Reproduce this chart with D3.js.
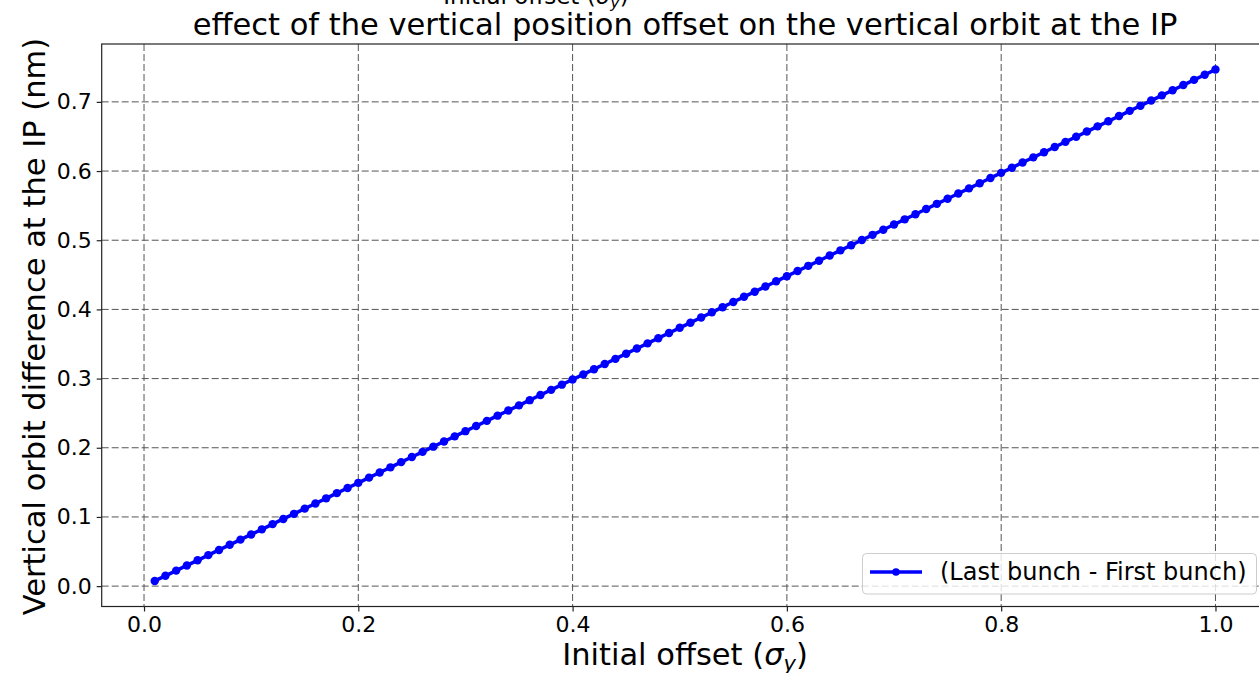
<!DOCTYPE html>
<html>
<head>
<meta charset="utf-8">
<script src="https://cdn.jsdelivr.net/npm/d3@7"></script>
<style>
  body { margin: 0; background: #fff; }
  svg text { font-family: "DejaVu Sans", sans-serif; fill: #000; }
</style>
</head>
<body>
<div id="chart"></div>
<script>
// datos: offset inicial (sigma_y) y diferencia de orbita (nm)
var offsets = [0.01,0.02,0.03,0.04,0.05,0.06,0.07,0.08,0.09,0.10,
  0.11,0.12,0.13,0.14,0.15,0.16,0.17,0.18,0.19,0.20,
  0.21,0.22,0.23,0.24,0.25,0.26,0.27,0.28,0.29,0.30,
  0.31,0.32,0.33,0.34,0.35,0.36,0.37,0.38,0.39,0.40,
  0.41,0.42,0.43,0.44,0.45,0.46,0.47,0.48,0.49,0.50,
  0.51,0.52,0.53,0.54,0.55,0.56,0.57,0.58,0.59,0.60,
  0.61,0.62,0.63,0.64,0.65,0.66,0.67,0.68,0.69,0.70,
  0.71,0.72,0.73,0.74,0.75,0.76,0.77,0.78,0.79,0.80,
  0.81,0.82,0.83,0.84,0.85,0.86,0.87,0.88,0.89,0.90,
  0.91,0.92,0.93,0.94,0.95,0.96,0.97,0.98,0.99,1.00]
var orbitDiff = [0.0075,0.0149,0.0224,0.0299,0.0373,0.0448,0.0523,0.0597,0.0672,0.0747,
  0.0821,0.0896,0.0971,0.1045,0.1120,0.1195,0.1269,0.1344,0.1419,0.1493,
  0.1568,0.1643,0.1717,0.1792,0.1867,0.1941,0.2016,0.2091,0.2165,0.2240,
  0.2315,0.2389,0.2464,0.2539,0.2613,0.2688,0.2763,0.2837,0.2912,0.2987,
  0.3061,0.3136,0.3211,0.3285,0.3360,0.3435,0.3509,0.3584,0.3659,0.3734,
  0.3808,0.3883,0.3958,0.4032,0.4107,0.4182,0.4256,0.4331,0.4406,0.4480,
  0.4555,0.4630,0.4704,0.4779,0.4854,0.4928,0.5003,0.5078,0.5152,0.5227,
  0.5302,0.5376,0.5451,0.5526,0.5600,0.5675,0.5750,0.5824,0.5899,0.5974,
  0.6048,0.6123,0.6198,0.6272,0.6347,0.6422,0.6496,0.6571,0.6646,0.6720,
  0.6795,0.6870,0.6944,0.7019,0.7094,0.7168,0.7243,0.7318,0.7392,0.7467]
var xTicks = [0.0,0.2,0.4,0.6,0.8,1.0]
var yTicks = [0.0,0.1,0.2,0.3,0.4,0.5,0.6,0.7]
var seriesLabel = "(Last bunch - First bunch)"
var titleText = "effect of the vertical position offset on the vertical orbit at the IP"
var yLabelText = "Vertical orbit difference at the IP (nm)"

var width = 1259, height = 673
var margin = {top: 44, right: -9.5, bottom: 66.5, left: 101.7}

var data = offsets.map(function(d, i){ return {x: d, y: orbitDiff[i]} })

// escalas con el margen de 5% estilo matplotlib
var xMin = d3.min(offsets), xMax = d3.max(offsets)
var yMin = d3.min(orbitDiff), yMax = d3.max(orbitDiff)
var dx = (xMax - xMin) * 0.05, dy = (yMax - yMin) * 0.05

var eX = d3.scaleLinear().domain([xMin - dx, xMax + dx]).range([margin.left, width - margin.right])
var eY = d3.scaleLinear().domain([yMin - dy, yMax + dy]).range([height - margin.bottom, margin.top])

var svg = d3.select("#chart").append("svg")
  .attr("width", width).attr("height", height)

// etiqueta de la figura de arriba, cortada por el borde
var ghost = svg.append("text")
  .attr("x", 536).attr("y", 4)
  .attr("text-anchor", "middle")
  .style("font-size", "23px")
ghost.append("tspan").text("Initial offset (")
ghost.append("tspan").style("font-style", "italic").text("σ")
ghost.append("tspan").style("font-style", "italic").style("font-size", "16px").attr("dy", 4).text("y")
ghost.append("tspan").attr("dy", -4).text(")")

// rejilla
svg.append("g").selectAll("line").data(xTicks).enter().append("line")
  .attr("x1", function(d){ return eX(d) }).attr("x2", function(d){ return eX(d) })
  .attr("y1", margin.top).attr("y2", height - margin.bottom)
  .attr("stroke", "#555").attr("stroke-width", 1).attr("stroke-dasharray", "7,3")
svg.append("g").selectAll("line").data(yTicks).enter().append("line")
  .attr("x1", margin.left).attr("x2", width - margin.right)
  .attr("y1", function(d){ return eY(d) }).attr("y2", function(d){ return eY(d) })
  .attr("stroke", "#555").attr("stroke-width", 1).attr("stroke-dasharray", "7,3")

// ejes
var xAxis = d3.axisBottom(eX).tickValues(xTicks).tickFormat(d3.format(".1f")).tickSize(5).tickPadding(5)
var yAxis = d3.axisLeft(eY).tickValues(yTicks).tickFormat(d3.format(".1f")).tickSize(5).tickPadding(5)

svg.append("g").attr("class", "x axis")
  .attr("transform", "translate(0," + (height - margin.bottom) + ")")
  .call(xAxis)
svg.append("g").attr("class", "y axis")
  .attr("transform", "translate(" + margin.left + ",0)")
  .call(yAxis)
svg.selectAll(".axis path").remove()
svg.selectAll(".axis line").attr("stroke", "#222").attr("stroke-width", 1.2)
svg.selectAll(".axis text").style("font-size", "22px").style("font-family", "DejaVu Sans")

// marco
svg.append("rect")
  .attr("x", margin.left).attr("y", margin.top)
  .attr("width", eX.range()[1] - margin.left)
  .attr("height", height - margin.bottom - margin.top)
  .attr("fill", "none").attr("stroke", "#222").attr("stroke-width", 1.2)

// linea y puntos
var line = d3.line().x(function(d){ return eX(d.x) }).y(function(d){ return eY(d.y) })
svg.append("path").datum(data)
  .attr("d", line)
  .attr("fill", "none").attr("stroke", "#0000ff").attr("stroke-width", 3.5)
svg.append("g").selectAll("circle").data(data).enter().append("circle")
  .attr("cx", function(d){ return eX(d.x) })
  .attr("cy", function(d){ return eY(d.y) })
  .attr("r", 4.2)
  .attr("fill", "#0000ff")

// titulo
svg.append("text")
  .attr("x", (margin.left + eX.range()[1]) / 2).attr("y", 35)
  .attr("text-anchor", "middle")
  .style("font-size", "30.5px")
  .text(titleText)

// etiqueta eje X
var xl = svg.append("text")
  .attr("x", 685).attr("y", 665)
  .attr("text-anchor", "middle")
  .style("font-size", "30.5px")
xl.append("tspan").text("Initial offset (")
xl.append("tspan").style("font-style", "italic").text("σ")
xl.append("tspan").style("font-style", "italic").style("font-size", "21px").attr("dy", 6).text("y")
xl.append("tspan").attr("dy", -6).text(")")

// etiqueta eje Y
svg.append("text")
  .attr("transform", "translate(45,326.5) rotate(-90)")
  .attr("text-anchor", "middle")
  .style("font-size", "30.5px")
  .text(yLabelText)

// leyenda
var legend = svg.append("g").attr("class", "legend")
legend.append("rect")
  .attr("x", 862.5).attr("y", 553.5).attr("width", 394).attr("height", 40.5)
  .attr("rx", 4).attr("ry", 4)
  .attr("fill", "#fff").attr("fill-opacity", 0.8)
  .attr("stroke", "#ccc").attr("stroke-width", 1)
legend.append("line")
  .attr("x1", 870).attr("x2", 922).attr("y1", 572).attr("y2", 572)
  .attr("stroke", "#0000ff").attr("stroke-width", 3.5)
legend.append("circle").attr("cx", 896).attr("cy", 572).attr("r", 3.8).attr("fill", "#0000ff")
legend.append("text")
  .attr("x", 940).attr("y", 580)
  .style("font-size", "24px")
  .text(seriesLabel)
</script>
</body>
</html>
